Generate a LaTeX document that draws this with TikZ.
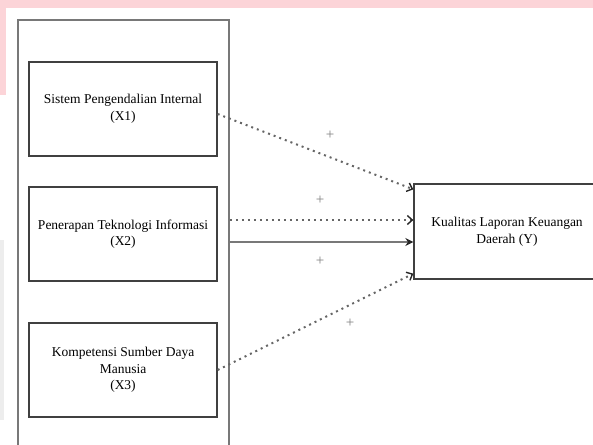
\documentclass[tikz,border=0pt]{standalone}
\usepackage{fontspec}
\setmainfont{Liberation Serif}
\usetikzlibrary{arrows.meta}
\definecolor{pinkbg}{RGB}{252,212,216}
\definecolor{linegray}{RGB}{120,120,120}
\begin{document}
\begin{tikzpicture}[x=1pt, y=-1pt,
  varbox/.style={draw=black!75, line width=1.3pt, minimum width=188pt, minimum height=94pt,
    align=center, inner sep=0pt, font=\fontsize{13.5}{16.5}\selectfont},
  dotarrow/.style={draw=black!60, line width=2pt, dash pattern=on 2pt off 4pt,
    -{Straight Barb[length=5pt, width=9pt, line width=1.4pt, color=black!85]}},
  solidarrow/.style={draw=linegray, line width=1.6pt, -{Stealth[length=8pt, width=8pt, color=black!85]}},
  sign/.style={font=\fontsize{15}{15}\selectfont, text=black!50}]
  \useasboundingbox (0,0) rectangle (593,444);

  % Background of the page
  \fill[pinkbg] (0,0) rectangle (593,8);
  \fill[pinkbg] (0,8) rectangle (6,95);
  \fill[black!7] (0,240) rectangle (4,420);

  % Outer frame (runs off the bottom)
  \node[draw=linegray, line width=1.8pt, minimum width=211pt, minimum height=450pt] (frame) at (123.5,245) {};

  % Variable boxes
  \node[varbox] (x1) at (123,109) {Sistem Pengendalian Internal\\(X1)};
  \node[varbox] (x2) at (123,234) {Penerapan Teknologi Informasi\\(X2)};
  \node[varbox] (x3) at (123,370) {Kompetensi Sumber Daya\\Manusia\\(X3)};
  \node[varbox, minimum width=186pt, minimum height=95pt] (y) at (507,231.5) {Kualitas Laporan Keuangan\\Daerah (Y)};

  % Arrows
  \draw[dotarrow] ([yshift=-5pt]x1.east) -- ([yshift=-6pt]y.north west);
  \draw[dotarrow] ([yshift=14pt]x2.east -| frame.east) -- ([yshift=11.5pt]y.west);
  \draw[solidarrow] ([yshift=-8pt]x2.east -| frame.east) -- ([yshift=-10.5pt]y.west);
  \draw[dotarrow] (x3.east) -- ([yshift=6pt]y.south west);

  % Signs
  \node[sign] (s1) at (330,135) {+};
  \node[sign] (s2) at (320,200) {+};
  \node[sign] (s3) at (320,261) {+};
  \node[sign] (s4) at (350,323) {+};
\end{tikzpicture}
\end{document}
